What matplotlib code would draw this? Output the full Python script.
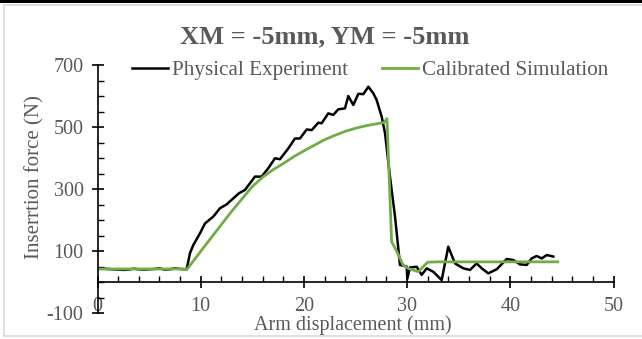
import matplotlib
matplotlib.use("Agg")
import matplotlib.pyplot as plt
from matplotlib.lines import Line2D
from matplotlib.patches import Rectangle
from matplotlib.ticker import MultipleLocator

title = "XM = -5mm, YM = -5mm"
xlabel = "Arm displacement (mm)"
ylabel = "Inserrtion force (N)"
series_names = ["Physical Experiment", "Calibrated Simulation"]

exp_x = [0, 0.5, 1, 1.5, 2, 2.5, 3, 3.5, 4, 4.5, 5, 5.5, 6, 6.5, 7, 7.5, 8, 8.64,
         8.96, 9.28, 9.93, 10.42, 11.22, 11.87, 12.5, 13.16, 13.7, 14.29, 15.26, 15.91,
         16.55, 17.2, 17.68, 18.49, 19.14, 19.62, 20.27, 20.76, 21.4, 21.72, 22.36,
         22.85, 23.33, 23.98, 24.3, 24.79, 25.27, 25.76, 26.24, 26.72, 27.05, 27.54,
         27.86, 28.34, 28.83, 29.31, 29.96, 30.02, 30.28, 30.93, 31.41, 31.9, 32.54,
         33.35, 33.99, 34.64, 35.45, 36.1, 36.74, 37.23, 37.87, 38.68, 39.65, 40.29,
         40.94, 41.59, 42.07, 42.56, 43.04, 43.53, 44.17]
exp_y = [44, 43, 42, 41, 40, 39, 40, 43, 41, 40, 41, 42, 44, 40, 41, 44, 42, 41,
         93, 119, 157, 189, 211, 238, 250, 270, 286, 297, 340, 340,
         367, 399, 396, 431, 463, 463, 492, 490, 514, 512, 544,
         539, 557, 560, 600, 571, 607, 606, 630, 609, 587, 533,
         480, 340, 211, 55, 50, 10, 47, 49, 23, 44, 33,
         6, 114, 60, 44, 39, 60, 44, 28, 41, 74, 71,
         57, 55, 76, 84, 76, 87, 82]

sim_x = [0, 1, 2, 3, 4, 5, 6, 7, 8, 8.7, 9, 10, 11, 12, 13, 14, 15, 16, 17, 18, 19,
         20, 21, 22, 23, 24, 25, 26, 27, 27.8, 28.05, 28.5, 29.1, 29.6, 30.1, 31.1,
         31.4, 32.0, 33, 34, 35, 36, 37, 38, 39, 40, 41, 42, 43, 44, 44.6]
sim_y = [42, 42, 42, 42, 42, 42, 42, 42, 42, 42, 55, 99, 142, 185, 228, 268, 308,
         338, 362, 382, 404, 423, 441, 459, 473, 486, 496, 504, 510, 515, 527, 130,
         92, 55, 44, 33, 44, 64, 65, 65, 65, 65, 65, 65, 65, 65, 65, 65, 65, 65, 65]

W, H = 642, 339
plt.rcParams['font.family'] = ['Liberation Serif', 'DejaVu Serif']
plt.rcParams['axes.unicode_minus'] = False
fig = plt.figure(figsize=(W / 100, H / 100), dpi=100)
grey = "#595959"

ax = fig.add_axes([97.5 / W, 1 - 313 / H, (613.5 - 97.5) / W, (313 - 65) / H])
ax.plot(exp_x, exp_y, color="black", lw=1.8, label=series_names[0], solid_joinstyle="round")
ax.plot(sim_x, sim_y, color="#70AD47", lw=2.0, label=series_names[1], solid_joinstyle="round")

ax.set_xlim(0, 50)
ax.set_ylim(-100, 700)
ax.xaxis.set_major_locator(MultipleLocator(10))
ax.xaxis.set_minor_locator(MultipleLocator(2))
ax.yaxis.set_major_locator(MultipleLocator(200))
ax.yaxis.set_minor_locator(MultipleLocator(50))
ax.set_yticks([-100, 100, 300, 500, 700])

for s in ["top", "right"]:
    ax.spines[s].set_visible(False)
ax.spines["bottom"].set_position(("data", 0))
ax.spines["bottom"].set_linewidth(1.2)
ax.spines["left"].set_linewidth(1.2)

ax.tick_params(axis="both", which="major", direction="inout", length=8, width=1.2,
               labelsize=14.5, labelcolor=grey)
ax.tick_params(axis="both", which="minor", direction="in", length=4, width=1.0)
ax.tick_params(axis="x", which="major", pad=6.5)
ax.tick_params(axis="y", which="major", pad=6)

fig.text(325 / W, 1 - 37 / H, title, ha="center", va="center", fontsize=19,
         fontweight="bold", color=grey)
fig.text(353 / W, 1 - 325 / H, xlabel, ha="center", va="center", fontsize=14.5, color=grey)
fig.text(35 / W, 1 - 177 / H, ylabel, ha="center", va="center", fontsize=15,
         color=grey, rotation=90)

fig.legend(loc="center", bbox_to_anchor=(370 / W, 1 - 70 / H), ncol=2, frameon=False,
           fontsize=15.2, labelcolor=grey, handlelength=1.7, handletextpad=0.2,
           columnspacing=1.6, borderpad=0)

# chart-area frame
fig.add_artist(Rectangle((0, 1 - 3 / H), 1, 3 / H, transform=fig.transFigure,
                         facecolor="black", edgecolor="none"))
fig.add_artist(Line2D([3.5 / W, 1], [1 - 4.5 / H, 1 - 4.5 / H], transform=fig.transFigure,
                      color="#d9d9d9", lw=1.2))
fig.add_artist(Line2D([3.5 / W, 3.5 / W], [1 - 4.5 / H, 1 - 335.5 / H],
                      transform=fig.transFigure, color="#d9d9d9", lw=1.2))
fig.add_artist(Line2D([3.5 / W, 1], [1 - 335.5 / H, 1 - 335.5 / H],
                      transform=fig.transFigure, color="#d9d9d9", lw=1.2))

fig.savefig("out.png", dpi=100)
